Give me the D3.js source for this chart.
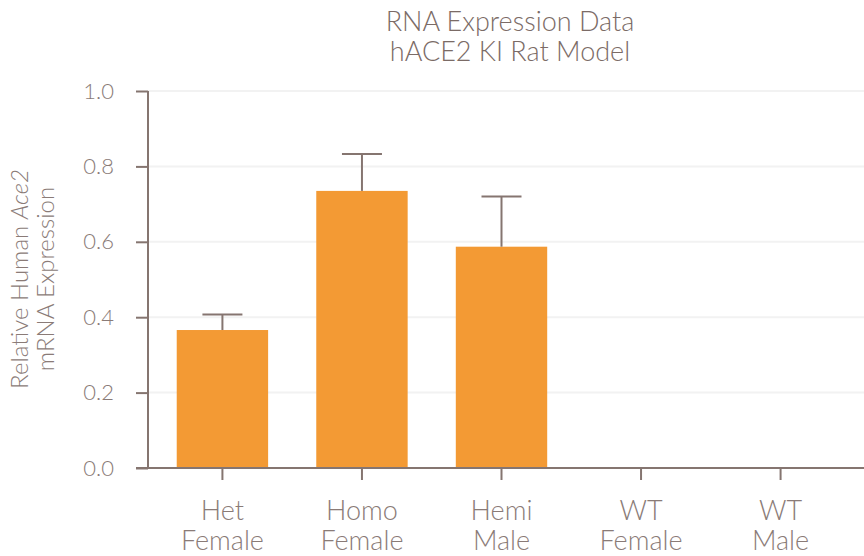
<!DOCTYPE html>
<html>
<head>
<meta charset="utf-8">
<script src="https://cdn.jsdelivr.net/npm/d3@7"></script>
<style>
  body { margin: 0; background: #fff; }
  text { font-family: Lato, "Open Sans", sans-serif; font-weight: 300; }
</style>
</head>
<body>
<div id="my_dataviz"></div>
<script>

// --------------------------------------------------------
// (1) Data
// --------------------------------------------------------

var groups = ["Het|Female", "Homo|Female", "Hemi|Male", "WT|Female", "WT|Male"]
var means = [0.366, 0.735, 0.587, 0, 0]
var errors = [0.041, 0.098, 0.133, 0, 0]
var yTicks = [0, 0.2, 0.4, 0.6, 0.8, 1.0]

var svg_width = 864
var svg_height = 556

var axisColor = "#857570"
var textColor = "#8a7b77"

// --------------------------------------------------------
// (2) Chart
// --------------------------------------------------------

const svg = d3.select("#my_dataviz")
  .append("svg")
    .attr("width", svg_width)
    .attr("height", svg_height)

const x = d3.scaleBand()
  .domain(groups)
  .range([153, 850])
  .paddingInner(0.345)
  .paddingOuter(0.17)

const y = d3.scaleLinear()
  .domain([0, 1])
  .range([468, 91])

// gridlines
svg.append("g")
  .selectAll("line")
  .data(yTicks.slice(1))
  .join("line")
    .attr("x1", 148)
    .attr("x2", svg_width)
    .attr("y1", d => y(d))
    .attr("y2", d => y(d))
    .attr("stroke", "#f2f2f2")
    .attr("stroke-width", 2)

// bars
svg.append("g")
  .selectAll("rect")
  .data(groups)
  .join("rect")
    .attr("x", d => x(d))
    .attr("y", (d, i) => y(means[i]))
    .attr("width", x.bandwidth())
    .attr("height", (d, i) => y(0) - y(means[i]))
    .attr("fill", "#f39a34")

// error bars (upper only)
const err = svg.append("g")
  .attr("stroke", axisColor)
  .attr("stroke-width", 2)
groups.forEach((g, i) => {
  if (errors[i] <= 0) return
  const cx = x(g) + x.bandwidth() / 2
  err.append("line")
    .attr("x1", cx).attr("x2", cx)
    .attr("y1", y(means[i])).attr("y2", y(means[i] + errors[i]))
  err.append("line")
    .attr("x1", cx - 20).attr("x2", cx + 20)
    .attr("y1", y(means[i] + errors[i])).attr("y2", y(means[i] + errors[i]))
})

// y axis
const yAxis = svg.append("g")
  .attr("transform", "translate(148,0)")
  .call(d3.axisLeft(y).tickValues(yTicks).tickFormat(d3.format(".1f")).tickSize(12).tickPadding(22))
yAxis.select(".domain").attr("stroke", axisColor).attr("stroke-width", 2)
  .attr("d", `M0,${y(1)}V${y(0)}`)
yAxis.selectAll(".tick line").attr("stroke", axisColor).attr("stroke-width", 2)
yAxis.selectAll(".tick text")
  .attr("fill", textColor)
  .style("font-size", "22px")

// x axis
const xAxis = svg.append("g")
  .attr("transform", `translate(0,${y(0)})`)
  .call(d3.axisBottom(x).tickSize(12).tickFormat(""))
xAxis.select(".domain").attr("stroke", axisColor).attr("stroke-width", 2)
  .attr("d", `M136,0H${svg_width}`)
xAxis.selectAll(".tick line").attr("stroke", axisColor).attr("stroke-width", 2)

// x labels, two lines
svg.append("g")
  .selectAll("text")
  .data(groups)
  .join("text")
    .attr("x", d => x(d) + x.bandwidth() / 2)
    .attr("y", 520)
    .attr("text-anchor", "middle")
    .attr("fill", textColor)
    .style("font-size", "27px")
    .each(function(d) {
      const parts = d.split("|")
      d3.select(this).append("tspan").attr("x", x(d) + x.bandwidth() / 2).text(parts[0])
      d3.select(this).append("tspan").attr("x", x(d) + x.bandwidth() / 2).attr("dy", 30).text(parts[1])
    })

// title
const title = svg.append("text")
  .attr("x", 510)
  .attr("y", 31)
  .attr("text-anchor", "middle")
  .attr("fill", "#7b6b66")
  .style("font-size", "27px")
title.append("tspan").attr("x", 510).text("RNA Expression Data")
title.append("tspan").attr("x", 510).attr("dy", 30).text("hACE2 KI Rat Model")

// y label
const ylab = svg.append("text")
  .attr("transform", "translate(0,279) rotate(-90)")
  .attr("text-anchor", "middle")
  .attr("fill", textColor)
  .style("font-size", "24px")
const l1 = ylab.append("tspan").attr("x", 0).attr("y", 28)
l1.append("tspan").text("Relative Human ")
l1.append("tspan").style("font-style", "italic").text("Ace2")
ylab.append("tspan").attr("x", 0).attr("y", 54).text("mRNA Expression")

</script>
</body>
</html>
